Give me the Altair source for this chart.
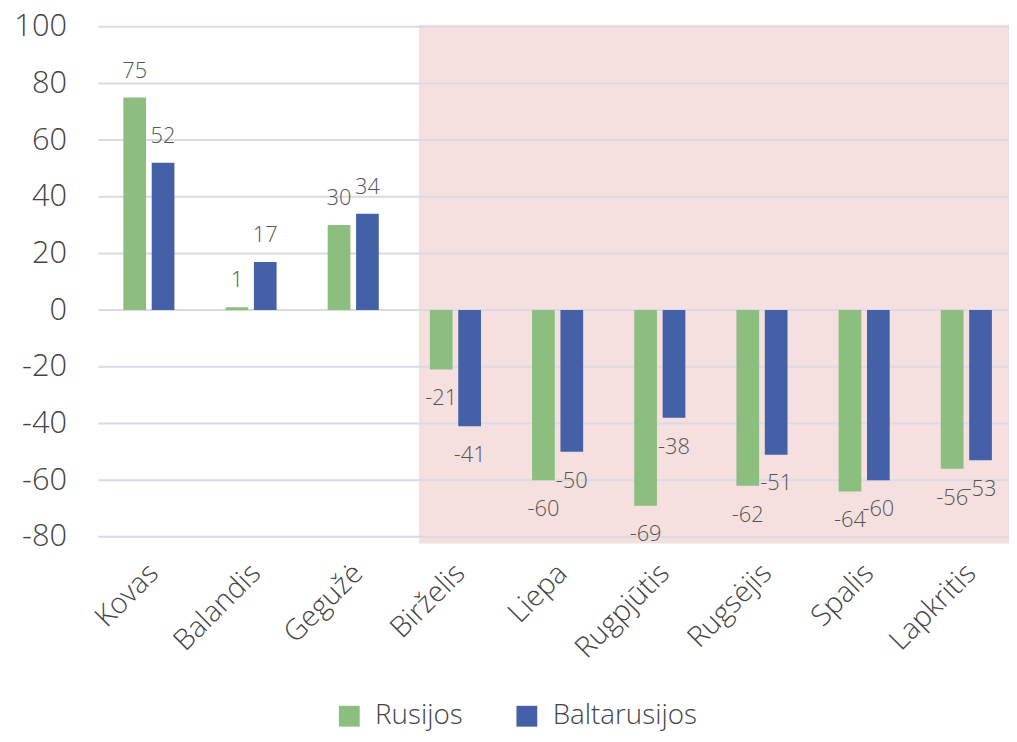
import altair as alt
import pandas as pd

# ---- data ----
months = ["Kovas", "Balandis", "Gegužė", "Birželis", "Liepa",
          "Rugpjūtis", "Rugsėjis", "Spalis", "Lapkritis"]
series = ["Rusijos", "Baltarusijos"]
rusijos = [75, 1, 30, -21, -60, -69, -62, -64, -56]
baltarusijos = [52, 17, 34, -41, -50, -38, -51, -60, -53]
y_ticks = [-80, -60, -40, -20, 0, 20, 40, 60, 80, 100]
highlight_start = ["Birželis"]

# ---- style ----
GREEN = "#8BBE7F"
BLUE = "#4461A8"
PINK = "#F6E0DF"
GRID = "#D9D9E7"
AXIS_TXT = "#454545"
LABEL_TXT = "#555555"
FONT = "Open Sans"
W300 = 300

PLOT_W = 910
PLOT_H = 523
Y_DOMAIN = [-82.4, 100.7]

rows = []
for m, r, b in zip(months, rusijos, baltarusijos):
    rows.append({"month": m, "series": series[0], "value": r})
    rows.append({"month": m, "series": series[1], "value": b})
df = pd.DataFrame(rows)

x_scale = alt.Scale(domain=months, paddingInner=0.5, paddingOuter=0.1675, align=0.732)
y_scale = alt.Scale(domain=Y_DOMAIN, nice=False, zero=False)
off_scale = alt.Scale(domain=series, paddingInner=0.2, paddingOuter=0)

x_axis = alt.Axis(labelAngle=-45, labelAlign="right", labelBaseline="top",
                  labelPadding=15, labelOffset=-5, labelFontSize=29, labelFont=FONT,
                  labelFontWeight=W300, labelColor=AXIS_TXT, domain=False,
                  ticks=False, tickSize=0, grid=False, title=None,
                  labelOverlap=False)
y_axis = alt.Axis(values=y_ticks, grid=False, domain=False, ticks=False,
                  tickSize=0, labelPadding=32, labelFontSize=31, labelFont=FONT,
                  labelFontWeight=W300, labelColor=AXIS_TXT, title=None,
                  labelExpr="'' + datum.value")

shade_df = pd.DataFrame({"start": highlight_start,
                         "top": [Y_DOMAIN[1]], "bottom": [Y_DOMAIN[0]]})
shade = alt.Chart(shade_df).mark_rect(color=PINK, xOffset=-11).encode(
    x=alt.X("start:N", scale=x_scale, axis=x_axis, bandPosition=0),
    x2=alt.value(PLOT_W + 8),
    y=alt.Y("top:Q", scale=y_scale, axis=y_axis),
    y2="bottom:Q",
)

grid = alt.Chart(pd.DataFrame({"tick": y_ticks})).mark_rule(
    color=GRID, strokeWidth=2).encode(
    y=alt.Y("tick:Q", scale=y_scale, axis=y_axis),
    x=alt.value(0),
    x2=alt.value(PLOT_W + 8),
)

bars = alt.Chart(df).mark_bar().encode(
    x=alt.X("month:N", scale=x_scale, axis=x_axis, sort=months),
    xOffset=alt.XOffset("series:N", scale=off_scale, sort=series),
    y=alt.Y("value:Q", scale=y_scale, axis=y_axis),
    y2=alt.datum(0),
    color=alt.Color("series:N",
                    scale=alt.Scale(domain=series, range=[GREEN, BLUE]),
                    legend=alt.Legend(orient="none", legendX=239, legendY=683,
                                      direction="horizontal", title=None,
                                      symbolType="square", symbolSize=441,
                                      symbolStrokeWidth=0, symbolOpacity=1,
                                      labelFontSize=28, labelFont=FONT,
                                      labelFontWeight=W300, labelColor=AXIS_TXT,
                                      labelOffset=12, columnPadding=50)),
)

def labels(cond, dy):
    return alt.Chart(df).transform_filter(cond).transform_calculate(
        lbl="'' + datum.value").mark_text(
        dy=dy, fontSize=22, font=FONT, fontWeight=W300, color=LABEL_TXT,
        align="center", baseline="middle").encode(
        x=alt.X("month:N", scale=x_scale, axis=x_axis, sort=months),
        xOffset=alt.XOffset("series:N", scale=off_scale, sort=series),
        y=alt.Y("value:Q", scale=y_scale, axis=y_axis),
        text="lbl:N",
    )

pos_labels = labels("datum.value >= 0", -27)
neg_labels = labels("datum.value < 0", 29)

chart = alt.layer(shade, grid, bars, pos_labels, neg_labels).properties(
    width=PLOT_W,
    height=PLOT_H,
    autosize=alt.AutoSizeParams(type="none"),
    padding={"left": 91, "top": 14, "right": 8, "bottom": 186},
).configure(font=FONT).configure_view(stroke=None)

chart.save("out.html", embed_options={"renderer": "svg", "actions": False})
